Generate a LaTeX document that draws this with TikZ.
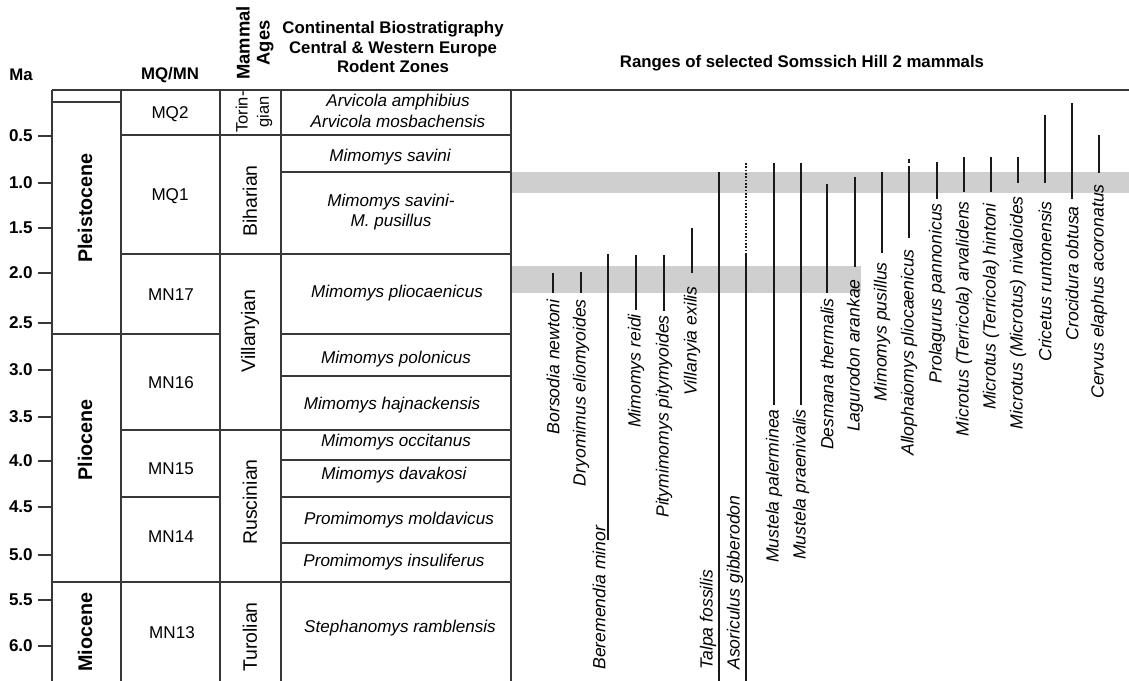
\documentclass[tikz,border=0pt]{standalone}
\usepackage{fontspec}
\setmainfont{Liberation Sans}
\begin{document}
\begin{tikzpicture}[x=0.75pt,y=-0.75pt,
  tbl/.style={draw=black!78, line width=1.15pt},
  rng/.style={draw=black!90, line width=2.2pt},
  band/.style={fill=black!19, draw=none},
  hdr/.style={font=\bfseries\fontsize{12.6}{15}\selectfont, align=center, inner sep=0pt},
  zone/.style={font=\itshape\fontsize{12.8}{15.5}\selectfont, align=center, inner sep=0pt},
  mq/.style={font=\fontsize{12.8}{15}\selectfont, inner sep=0pt},
  age/.style={font=\fontsize{14.6}{16}\selectfont, rotate=90, inner sep=0pt, align=center},
  epoch/.style={font=\bfseries\fontsize{14.8}{16}\selectfont, rotate=90, inner sep=0pt},
  malab/.style={font=\bfseries\fontsize{12.8}{15}\selectfont, anchor=east, inner sep=0pt},
  sp/.style={font=\itshape\fontsize{13.2}{15}\selectfont, rotate=90, inner sep=0pt}]
\useasboundingbox (0,0) rectangle (1129,681);
% grey bands
\fill[band] (512,172) rectangle (1129,193);
\fill[band] (512,266) rectangle (861,293);
% headers
\node[hdr] (hMa) at (21,75) {Ma};
\node[hdr] (hMQ) at (170,75) {MQ/MN};
\node[hdr, rotate=90, font=\bfseries\fontsize{13.8}{15}\selectfont] (hAge) at (255,43) {Mammal\\Ages};
\node[hdr, font=\bfseries\fontsize{12.6}{14.6}\selectfont] (hZone) at (393,47) {Continental Biostratigraphy\\Central \& Western Europe\\Rodent Zones};
\node[hdr] (hRange) at (802,63) {Ranges of selected Somssich Hill 2 mammals};
% table frame
\draw[tbl] (52,90) -- (1129,90);
\foreach \xx in {52,121,220,281,511} \draw[tbl] (\xx,90) -- (\xx,681);
% epoch column lines
\foreach \yy in {102,334,582} \draw[tbl] (52,\yy) -- (121,\yy);
% MQ column
\foreach \yy in {135,254,334,430,497,582} \draw[tbl] (121,\yy) -- (220,\yy);
% mammal ages
\foreach \yy in {135,254,430,582} \draw[tbl] (220,\yy) -- (281,\yy);
% rodent zones
\foreach \yy in {135,172,254,334,376,430,460,497,543,582} \draw[tbl] (281,\yy) -- (511,\yy);
% Ma ticks
\foreach \v/\yy in {0.5/136,1.0/183,1.5/228,2.0/273,2.5/323,3.0/370,3.5/417,4.0/461,4.5/507,5.0/555,5.5/600,6.0/646}{
  \draw[tbl] (38,\yy) -- (52,\yy);
  \node[malab] (ma\v) at (33,\yy) {\v};
}
% epochs
\node[epoch] (ePle) at (85,208) {Pleistocene};
\node[epoch] (ePli) at (85,440) {Pliocene};
\node[epoch] (eMio) at (85,632) {Miocene};
% MQ/MN
\node[mq] (mq2) at (170,114) {MQ2};
\node[mq] (mq1) at (170,196) {MQ1};
\node[mq] (mn17) at (171,295) {MN17};
\node[mq] (mn16) at (171,383) {MN16};
\node[mq] (mn15) at (171,469) {MN15};
\node[mq] (mn14) at (171,537) {MN14};
\node[mq] (mn13) at (172,633) {MN13};
% mammal ages
\node[age, font=\fontsize{12.4}{16}\selectfont] (aTor) at (254,112) {Torin-\\gian};
\node[age] (aBih) at (250,201) {Biharian};
\node[age] (aVil) at (250,331) {Villanyian};
\node[age] (aRus) at (250,502) {Ruscinian};
\node[age] (aTur) at (250,637) {Turolian};
% rodent zones
\node[zone] (z1) at (398,111) {Arvicola amphibius\\Arvicola mosbachensis};
\node[zone] (z2) at (390,157) {Mimomys savini};
\node[zone] (z3) at (391,212) {Mimomys savini-\\M. pusillus};
\node[zone] (z4) at (397,293) {Mimomys pliocaenicus};
\node[zone] (z5) at (396,359) {Mimomys polonicus};
\node[zone] (z6) at (392,405) {Mimomys hajnackensis};
\node[zone] (z7) at (396,442) {Mimomys occitanus};
\node[zone] (z8) at (394,475) {Mimomys davakosi};
\node[zone] (z9) at (399,520) {Promimomys moldavicus};
\node[zone] (z10) at (394,562) {Promimomys insuliferus};
\node[zone] (z11) at (400,628) {Stephanomys ramblensis};
% species ranges (short lines, label below)
\foreach \xx/\ya/\yb/\yl/\name [count=\i] in {
  553/273/293/299/Borsodia newtoni,
  581/272/293/299/Dryomimus eliomyoides,
  636/255/310/314/Mimomys reidi,
  664/255/311/315/Pitymimomys pitymyoides,
  692/228/273/286/Villanyia exilis,
  774/163/405/409/Mustela palerminea,
  801/163/405/409/Mustela praenivalis,
  827/184/293/298/Desmana thermalis,
  855/177/267/279/Lagurodon arankae,
  882/172/253/262/Mimomys pusillus,
  909/166/238/249/Allophaiomys pliocaenicus,
  937/162/199/203/Prolagurus pannonicus,
  964/157/192/201/Microtus (Terricola) arvalidens,
  991/157/192/203/Microtus (Terricola) hintoni,
  1018/157/183/196/Microtus (Microtus) nivaloides,
  1045/115/183/201/Cricetus runtonensis,
  1072/103/199/206/Crocidura obtusa,
  1099/135/173/184/Cervus elaphus acoronatus}{
  \draw[rng] (\xx,\ya) -- (\xx,\yb);
  \node[sp, anchor=east] (s\i) at (\xx,\yl) {\name};
}
% Allophaiomys dashed top
\draw[rng] (909,159) -- (909,163);
% long lines with label at bottom
\draw[rng] (608,254) -- (608,540);
\node[sp, anchor=west] (sBer) at (599,670) {Beremendia minor};
\draw[rng] (719,172) -- (719,681);
\node[sp, anchor=west] (sTal) at (708,670) {Talpa fossilis};
\draw[rng] (746,254) -- (746,681);
\draw[draw=black!90, line width=2.2pt, dash pattern=on 1.3pt off 1.2pt] (746,163) -- (746,254);
\node[sp, anchor=west] (sAso) at (735,670) {Asoriculus gibberodon};
\end{tikzpicture}
\end{document}
